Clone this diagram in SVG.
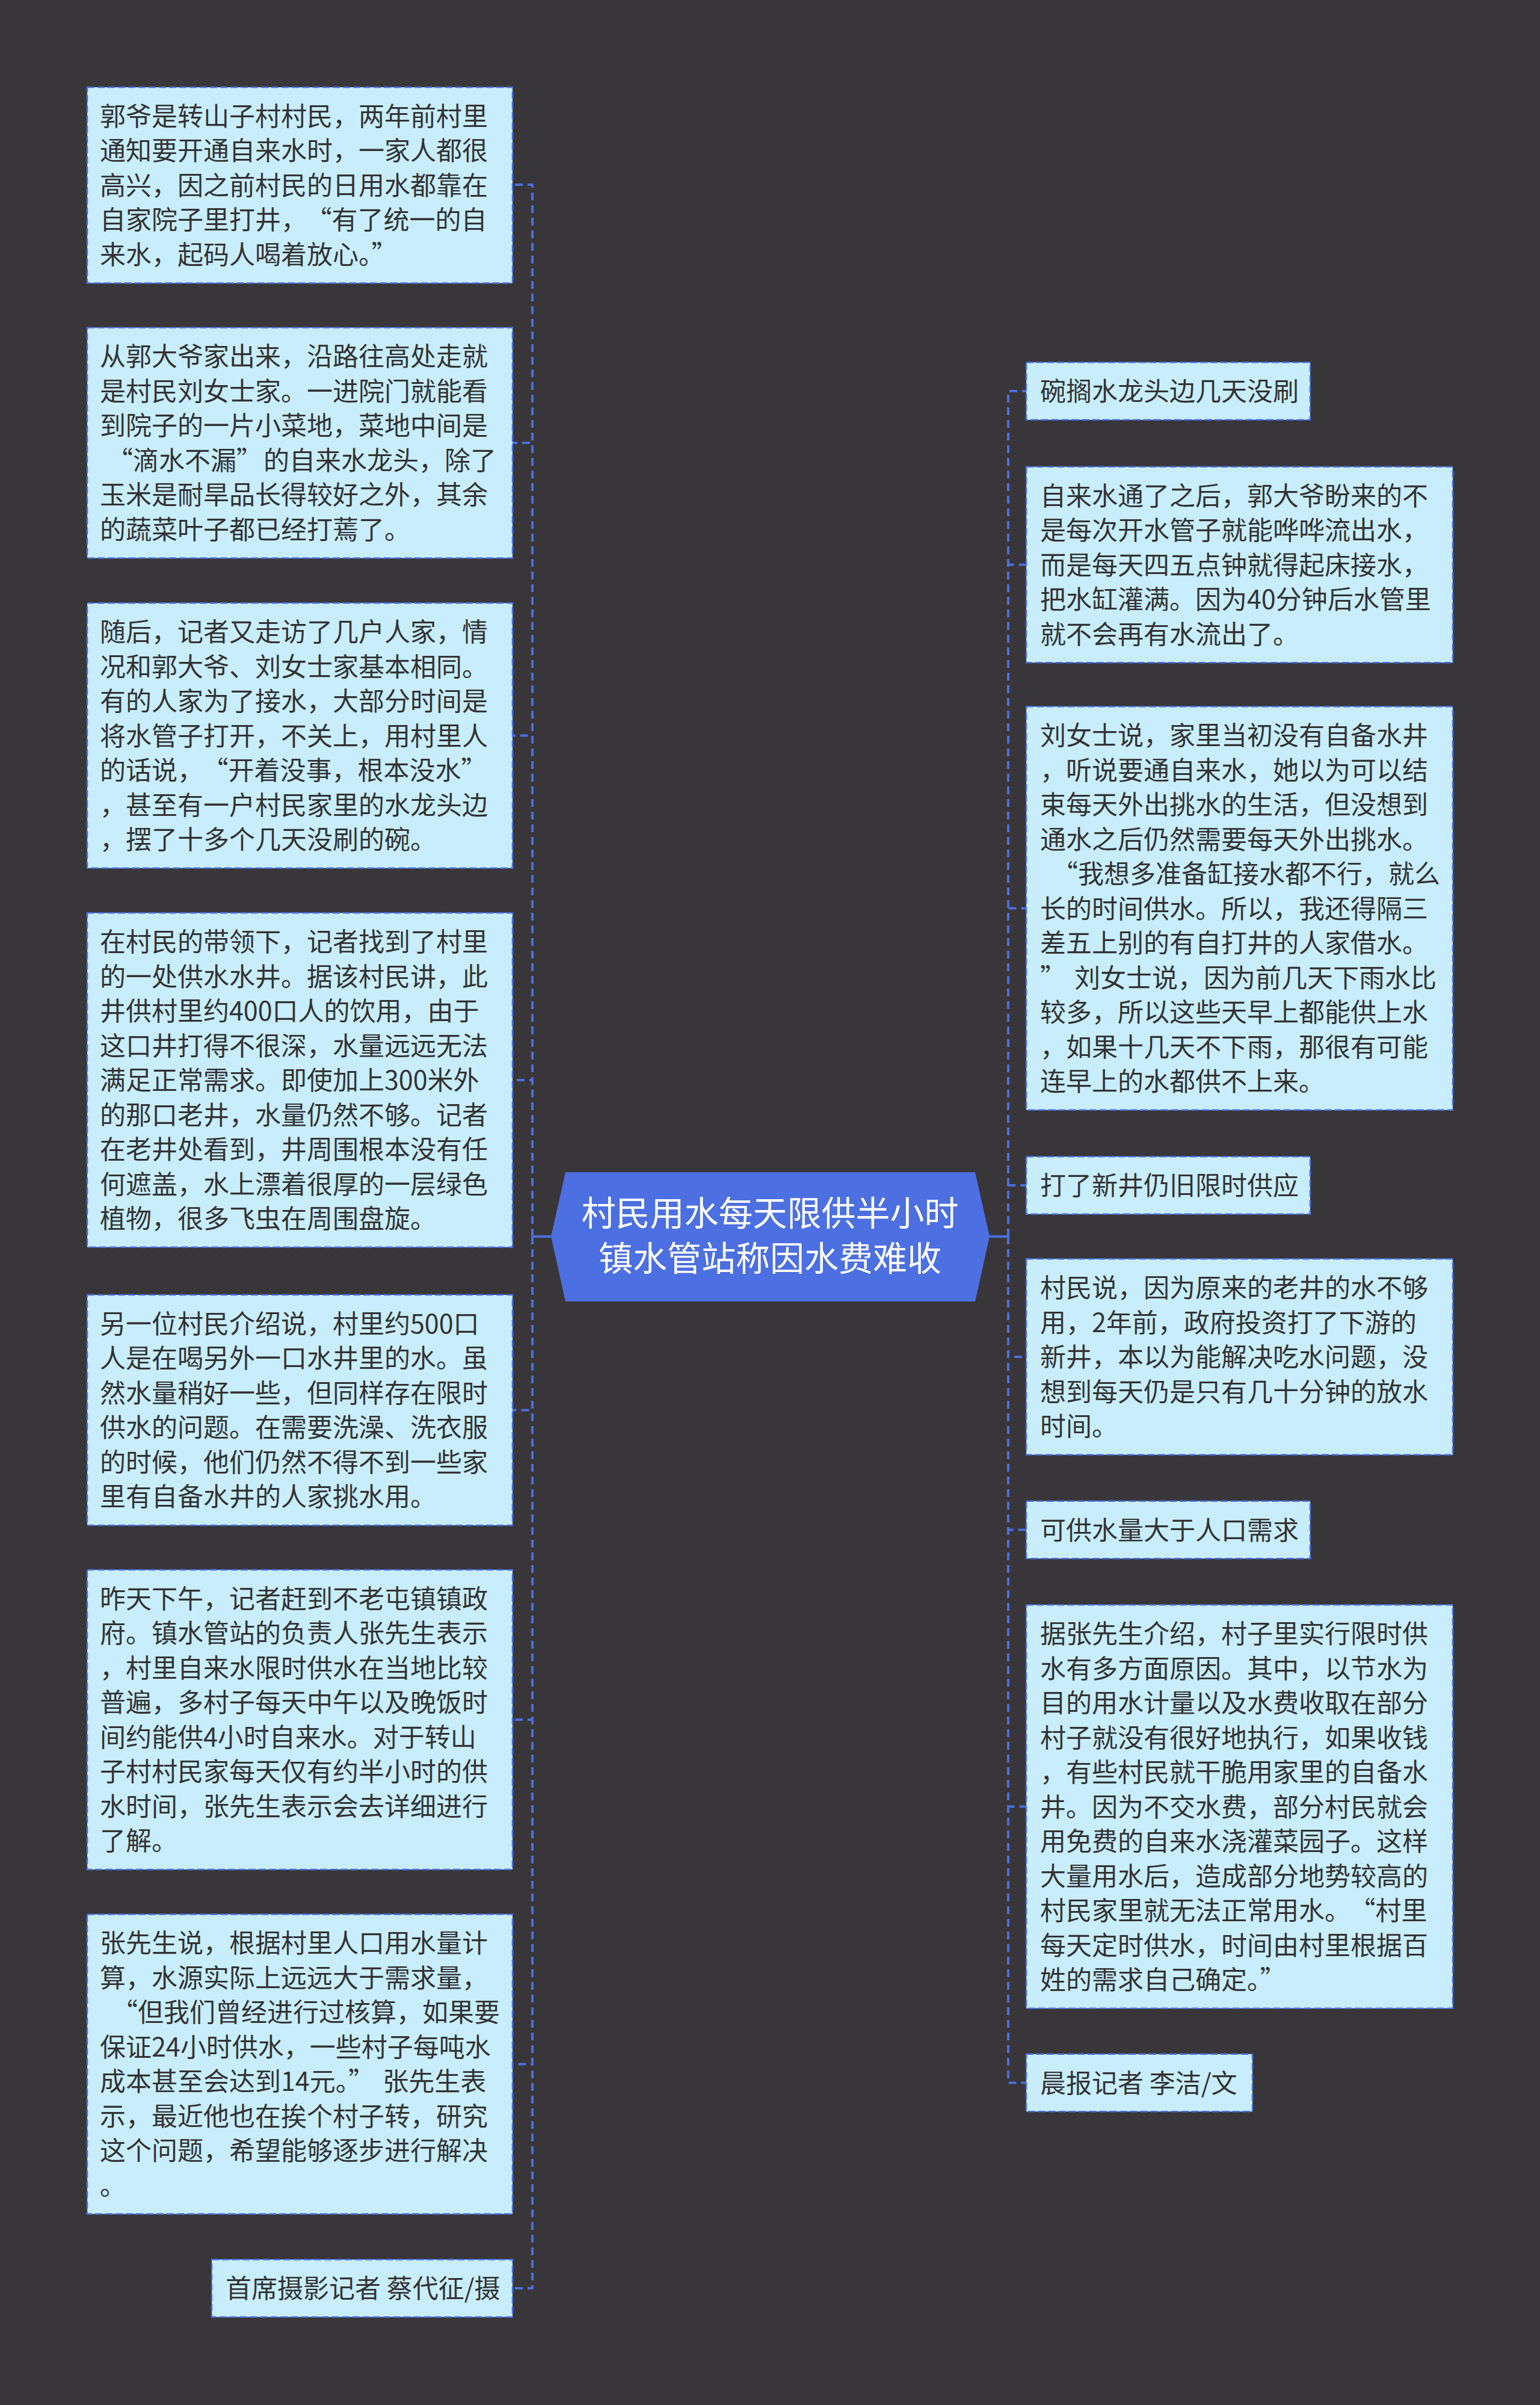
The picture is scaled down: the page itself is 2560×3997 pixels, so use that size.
<svg xmlns="http://www.w3.org/2000/svg" width="2560" height="3997" viewBox="0 0 2560 3997">
<style>
.bg{fill:#383638}
.box{fill:#c8eefd;stroke:#4a6fe0;stroke-width:2.5;stroke-dasharray:12 5}
.t{font-family:"Noto Sans CJK SC","Noto Sans",sans-serif;font-size:43px;fill:#333333}
.ct{font-family:"Noto Sans CJK SC","Noto Sans",sans-serif;font-size:57px;fill:#ffffff;text-anchor:middle}
.c{fill:none;stroke:#4a6fe0;stroke-width:4;stroke-dasharray:13 8}
.cs{fill:none;stroke:#4a6fe0;stroke-width:4}
</style>
<rect class="bg" x="0" y="0" width="2560" height="3997"/>
<g id="connectors">
<path class="cs" d="M916 2055 H885"/>
<path class="cs" d="M1645 2055 H1676"/>
<path class="c" d="M885 2055 V307 H852"/>
<path class="c" d="M885 2055 V736 H852"/>
<path class="c" d="M885 2055 V1222.5 H852"/>
<path class="c" d="M885 2055 V1795 H852"/>
<path class="c" d="M885 2055 V2343.5 H852"/>
<path class="c" d="M885 2055 V2858 H852"/>
<path class="c" d="M885 2055 V3430.5 H852"/>
<path class="c" d="M885 2055 V3803 H852"/>
<path class="c" d="M1676 2055 V650 H1706"/>
<path class="c" d="M1676 2055 V938.5 H1706"/>
<path class="c" d="M1676 2055 V1509.5 H1706"/>
<path class="c" d="M1676 2055 V1970 H1706"/>
<path class="c" d="M1676 2055 V2255 H1706"/>
<path class="c" d="M1676 2055 V2542.5 H1706"/>
<path class="c" d="M1676 2055 V3002.5 H1706"/>
<path class="c" d="M1676 2055 V3461.5 H1706"/>
</g>
<g id="center">
<polygon points="940,1948 1621,1948 1645,2055 1621,2163 940,2163 916,2055" fill="#4c6fe1"/>
<text class="ct"><tspan x="1280" y="2037">村民用水每天限供半小时</tspan><tspan x="1280" y="2112">镇水管站称因水费难收</tspan></text>
</g>
<g id="L1">
<rect class="box" x="145" y="145" width="707" height="325.5"/>
<text class="t"><tspan x="166" y="208.75">郭爷是转山子村村民，两年前村里</tspan><tspan x="166" y="266.25">通知要开通自来水时，一家人都很</tspan><tspan x="166" y="323.75">高兴，因之前村民的日用水都靠在</tspan><tspan x="166" y="381.25">自家院子里打井，<tspan dx="20">“</tspan>有了统一的自</tspan><tspan x="166" y="438.75">来水，起码人喝着放心。”</tspan></text>
</g>
<g id="L2">
<rect class="box" x="145" y="544.5" width="707" height="383"/>
<text class="t"><tspan x="166" y="608.25">从郭大爷家出来，沿路往高处走就</tspan><tspan x="166" y="665.75">是村民刘女士家。一进院门就能看</tspan><tspan x="166" y="723.25">到院子的一片小菜地，菜地中间是</tspan><tspan x="166" y="780.75"><tspan dx="12">“</tspan>滴水不漏”<tspan dx="2">的</tspan>自来水龙头，除了</tspan><tspan x="166" y="838.25">玉米是耐旱品长得较好之外，其余</tspan><tspan x="166" y="895.75">的蔬菜叶子都已经打蔫了。</tspan></text>
</g>
<g id="L3">
<rect class="box" x="145" y="1002.25" width="707" height="440.5"/>
<text class="t"><tspan x="166" y="1066">随后，记者又走访了几户人家，情</tspan><tspan x="166" y="1123.5">况和郭大爷、刘女士家基本相同。</tspan><tspan x="166" y="1181">有的人家为了接水，大部分时间是</tspan><tspan x="166" y="1238.5">将水管子打开，不关上，用村里人</tspan><tspan x="166" y="1296">的话说，<tspan dx="20">“</tspan>开着没事，根本没水”</tspan><tspan x="166" y="1353.5">，甚至有一户村民家里的水龙头边</tspan><tspan x="166" y="1411">，摆了十多个几天没刷的碗。</tspan></text>
</g>
<g id="L4">
<rect class="box" x="145" y="1517.25" width="707" height="555.5"/>
<text class="t"><tspan x="166" y="1581">在村民的带领下，记者找到了村里</tspan><tspan x="166" y="1638.5">的一处供水水井。据该村民讲，此</tspan><tspan x="166" y="1696">井供村里约400口人的饮用，由于</tspan><tspan x="166" y="1753.5">这口井打得不很深，水量远远无法</tspan><tspan x="166" y="1811">满足正常需求。即使加上300米外</tspan><tspan x="166" y="1868.5">的那口老井，水量仍然不够。记者</tspan><tspan x="166" y="1926">在老井处看到，井周围根本没有任</tspan><tspan x="166" y="1983.5">何遮盖，水上漂着很厚的一层绿色</tspan><tspan x="166" y="2041">植物，很多飞虫在周围盘旋。</tspan></text>
</g>
<g id="L5">
<rect class="box" x="145" y="2152" width="707" height="383"/>
<text class="t"><tspan x="166" y="2215.75">另一位村民介绍说，村里约500口</tspan><tspan x="166" y="2273.25">人是在喝另外一口水井里的水。虽</tspan><tspan x="166" y="2330.75">然水量稍好一些，但同样存在限时</tspan><tspan x="166" y="2388.25">供水的问题。在需要洗澡、洗衣服</tspan><tspan x="166" y="2445.75">的时候，他们仍然不得不到一些家</tspan><tspan x="166" y="2503.25">里有自备水井的人家挑水用。</tspan></text>
</g>
<g id="L6">
<rect class="box" x="145" y="2609" width="707" height="498"/>
<text class="t"><tspan x="166" y="2672.75">昨天下午，记者赶到不老屯镇镇政</tspan><tspan x="166" y="2730.25">府。镇水管站的负责人张先生表示</tspan><tspan x="166" y="2787.75">，村里自来水限时供水在当地比较</tspan><tspan x="166" y="2845.25">普遍，多村子每天中午以及晚饭时</tspan><tspan x="166" y="2902.75">间约能供4小时自来水。对于转山</tspan><tspan x="166" y="2960.25">子村村民家每天仅有约半小时的供</tspan><tspan x="166" y="3017.75">水时间，张先生表示会去详细进行</tspan><tspan x="166" y="3075.25">了解。</tspan></text>
</g>
<g id="L7">
<rect class="box" x="145" y="3181.5" width="707" height="498"/>
<text class="t"><tspan x="166" y="3245.25">张先生说，根据村里人口用水量计</tspan><tspan x="166" y="3302.75">算，水源实际上远远大于需求量，</tspan><tspan x="166" y="3360.25"><tspan dx="20">“</tspan>但我们曾经进行过核算，如果要</tspan><tspan x="166" y="3417.75">保证24小时供水，一些村子每吨水</tspan><tspan x="166" y="3475.25">成本甚至会达到14元。”<tspan dx="14">张</tspan>先生表</tspan><tspan x="166" y="3532.75">示，最近他也在挨个村子转，研究</tspan><tspan x="166" y="3590.25">这个问题，希望能够逐步进行解决</tspan><tspan x="166" y="3647.75">。</tspan></text>
</g>
<g id="L8">
<rect class="box" x="352" y="3755.25" width="500" height="95.5"/>
<text class="t" x="375" y="3819">首席摄影记者 蔡代征/摄</text>
</g>
<g id="R1">
<rect class="box" x="1706" y="602.25" width="472" height="95.5"/>
<text class="t" x="1729" y="666">碗搁水龙头边几天没刷</text>
</g>
<g id="R2">
<rect class="box" x="1706" y="775.75" width="709" height="325.5"/>
<text class="t"><tspan x="1729" y="839.5">自来水通了之后，郭大爷盼来的不</tspan><tspan x="1729" y="897">是每次开水管子就能哗哗流出水，</tspan><tspan x="1729" y="954.5">而是每天四五点钟就得起床接水，</tspan><tspan x="1729" y="1012">把水缸灌满。因为40分钟后水管里</tspan><tspan x="1729" y="1069.5">就不会再有水流出了。</tspan></text>
</g>
<g id="R3">
<rect class="box" x="1706" y="1174.25" width="709" height="670.5"/>
<text class="t"><tspan x="1729" y="1238">刘女士说，家里当初没有自备水井</tspan><tspan x="1729" y="1295.5">，听说要通自来水，她以为可以结</tspan><tspan x="1729" y="1353">束每天外出挑水的生活，但没想到</tspan><tspan x="1729" y="1410.5">通水之后仍然需要每天外出挑水。</tspan><tspan x="1729" y="1468"><tspan dx="20">“</tspan>我想多准备缸接水都不行，就么</tspan><tspan x="1729" y="1525.5">长的时间供水。所以，我还得隔三</tspan><tspan x="1729" y="1583">差五上别的有自打井的人家借水。</tspan><tspan x="1729" y="1640.5">”<tspan dx="14">刘</tspan>女士说，因为前几天下雨水比</tspan><tspan x="1729" y="1698">较多，所以这些天早上都能供上水</tspan><tspan x="1729" y="1755.5">，如果十几天不下雨，那很有可能</tspan><tspan x="1729" y="1813">连早上的水都供不上来。</tspan></text>
</g>
<g id="R4">
<rect class="box" x="1706" y="1922.25" width="472" height="95.5"/>
<text class="t" x="1729" y="1986">打了新井仍旧限时供应</text>
</g>
<g id="R5">
<rect class="box" x="1706" y="2092.25" width="709" height="325.5"/>
<text class="t"><tspan x="1729" y="2156">村民说，因为原来的老井的水不够</tspan><tspan x="1729" y="2213.5">用，2年前，政府投资打了下游的</tspan><tspan x="1729" y="2271">新井，本以为能解决吃水问题，没</tspan><tspan x="1729" y="2328.5">想到每天仍是只有几十分钟的放水</tspan><tspan x="1729" y="2386">时间。</tspan></text>
</g>
<g id="R6">
<rect class="box" x="1706" y="2494.75" width="472" height="95.5"/>
<text class="t" x="1729" y="2558.5">可供水量大于人口需求</text>
</g>
<g id="R7">
<rect class="box" x="1706" y="2667.25" width="709" height="670.5"/>
<text class="t"><tspan x="1729" y="2731">据张先生介绍，村子里实行限时供</tspan><tspan x="1729" y="2788.5">水有多方面原因。其中，以节水为</tspan><tspan x="1729" y="2846">目的用水计量以及水费收取在部分</tspan><tspan x="1729" y="2903.5">村子就没有很好地执行，如果收钱</tspan><tspan x="1729" y="2961">，有些村民就干脆用家里的自备水</tspan><tspan x="1729" y="3018.5">井。因为不交水费，部分村民就会</tspan><tspan x="1729" y="3076">用免费的自来水浇灌菜园子。这样</tspan><tspan x="1729" y="3133.5">大量用水后，造成部分地势较高的</tspan><tspan x="1729" y="3191">村民家里就无法正常用水。<tspan dx="20">“</tspan>村里</tspan><tspan x="1729" y="3248.5">每天定时供水，时间由村里根据百</tspan><tspan x="1729" y="3306">姓的需求自己确定。”</tspan></text>
</g>
<g id="R8">
<rect class="box" x="1706" y="3413.75" width="376" height="95.5"/>
<text class="t" x="1729" y="3477.5">晨报记者 李洁/文</text>
</g>
</svg>
